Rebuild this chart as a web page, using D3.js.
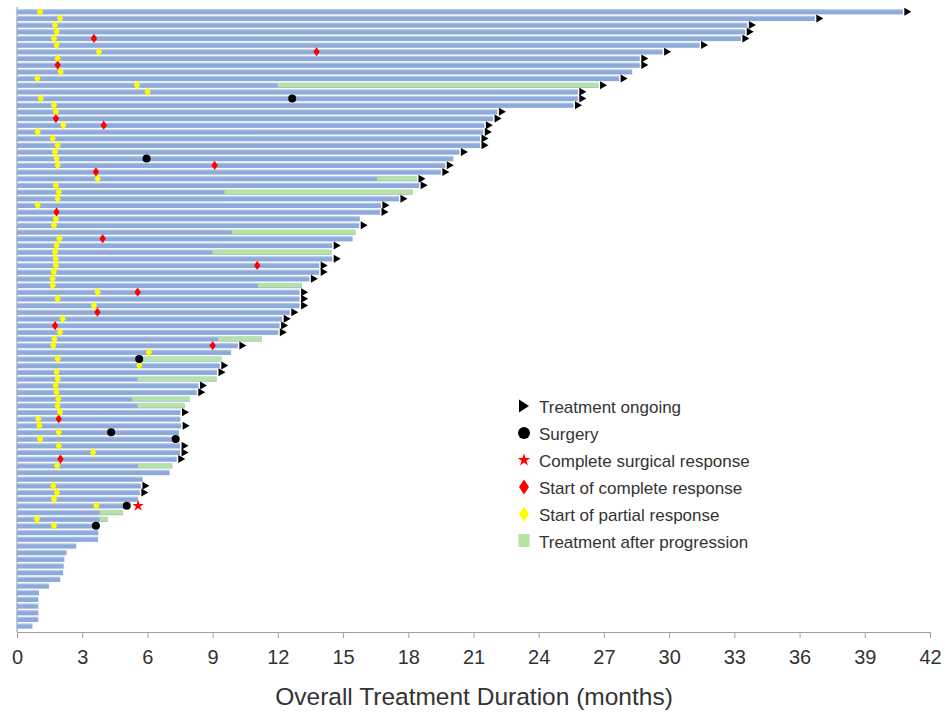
<!DOCTYPE html>
<html>
<head>
<meta charset="utf-8">
<script src="https://cdn.jsdelivr.net/npm/d3@7"></script>
<style>
  html, body { margin: 0; padding: 0; background: #fff; }
  svg { display: block; font-family: "Liberation Sans", Arial, sans-serif; }
</style>
</head>
<body>
<svg id="chart" width="946" height="715"></svg>
<script>
// ---- Data (months), one entry per patient, top to bottom ----
const duration = [40.75,36.7,33.6,33.5,33.3,31.4,29.7,28.65,28.65,28.3,
  27.7,26.75,25.8,25.8,25.6,22.1,21.9,21.5,21.45,21.3,
  21.3,20.35,20.07,19.7,19.5,18.4,18.5,18.2,17.57,16.74,
  16.7,15.77,15.74,15.57,15.44,14.5,14.46,14.5,13.9,13.9,
  13.45,13.1,13.0,13.0,13.0,12.55,12.2,12.08,12.02,11.27,
  10.16,9.85,9.4,9.33,9.2,9.18,8.35,8.27,7.95,7.72,
  7.52,7.52,7.55,7.45,7.35,7.5,7.5,7.35,7.14,7.02,
  5.78,5.7,5.65,5.57,5.05,4.88,4.18,3.7,3.74,3.73,
  2.73,2.28,2.18,2.15,2.12,1.99,1.47,1.01,0.98,0.98,
  0.98,0.98,0.71];

const ongoing = [1,1,1,1,1,1,1,1,1,0,
  1,1,1,1,1,1,1,1,1,1,
  1,1,0,1,1,1,1,0,1,1,
  1,0,1,0,0,1,0,1,1,1,
  1,0,1,1,1,1,1,1,1,0,
  1,0,0,1,1,0,1,1,0,0,
  1,0,1,0,0,1,1,1,0,0,
  0,1,1,0,0,0,0,0,0,0,
  0,0,0,0,0,0,0,0,0,0,
  0,0,0];

const partialResponse = [1.06,1.98,1.75,1.82,1.70,1.82,3.77,1.87,null,2.01,
  0.94,5.52,6.01,1.09,1.70,1.79,null,2.13,0.95,1.64,
  1.87,1.75,1.82,1.87,null,3.71,1.79,1.92,1.87,0.95,
  null,1.79,1.70,null,1.95,1.82,1.75,1.78,1.79,1.69,
  1.64,1.64,3.71,1.87,3.54,null,2.10,null,1.98,1.72,
  1.67,6.07,1.87,5.63,1.82,1.87,1.78,1.82,1.90,1.87,
  1.98,0.98,1.03,1.92,1.06,1.92,3.50,null,1.85,null,
  null,1.67,1.84,1.70,3.65,null,0.92,1.70,null,null,
  null,null,null,null,null,null,null,null,null,null,
  null,null,null];

const completeResponse = [null,null,null,null,3.54,null,13.78,null,1.87,null,
  null,null,null,null,null,null,1.79,3.99,null,null,
  null,null,null,9.09,3.63,null,null,null,null,null,
  1.82,null,null,null,3.94,null,null,null,11.05,null,
  null,null,5.55,null,null,3.70,null,1.75,null,null,
  9.0,null,null,null,null,null,null,null,null,null,
  null,1.92,null,null,null,null,null,2.0,null,null,
  null,null,null,null,null,null,null,null,null,null,
  null,null,null,null,null,null,null,null,null,null,
  null,null,null];

const surgery = [null,null,null,null,null,null,null,null,null,null,
  null,null,null,12.66,null,null,null,null,null,null,
  null,null,5.96,null,null,null,null,null,null,null,
  null,null,null,null,null,null,null,null,null,null,
  null,null,null,null,null,null,null,null,null,null,
  null,null,5.62,null,null,null,null,null,null,null,
  null,null,null,4.33,7.3,null,null,null,null,null,
  null,null,null,null,5.05,null,null,3.63,null,null,
  null,null,null,null,null,null,null,null,null,null,
  null,null,null];

const completeSurgicalResponse = [
  {patient: 74, month: 5.57}
];

const progressionStart = [null,null,null,null,null,null,null,null,null,null,
  null,12.0,null,null,null,null,null,null,null,null,
  null,null,null,null,null,16.57,null,9.55,null,null,
  null,null,null,9.88,null,null,9.0,null,null,null,
  null,11.08,null,null,null,null,null,null,null,9.25,
  null,null,5.7,null,null,5.55,null,null,5.3,5.55,
  null,null,null,null,null,null,null,null,5.57,null,
  null,null,null,null,null,3.8,3.8,null,null,null,
  null,null,null,null,null,null,null,null,null,null,
  null,null,null];

const xTicks = [0,3,6,9,12,15,18,21,24,27,30,33,36,39,42];
const xTitle = "Overall Treatment Duration (months)";
const legendItems = [
  {key: "ongoing", label: "Treatment ongoing"},
  {key: "surgery", label: "Surgery"},
  {key: "star", label: "Complete surgical response"},
  {key: "cr", label: "Start of complete response"},
  {key: "pr", label: "Start of partial response"},
  {key: "prog", label: "Treatment after progression"}
];

// ---- Drawing ----
const svg = d3.select("#chart");
const n = duration.length;
const x = d3.scaleLinear().domain([0, 42]).range([17, 930]);
const y = d3.scalePoint().domain(d3.range(n)).range([11.7, 626]);
const barH = 5.4;

const defs = svg.append("defs");
const grad = defs.append("linearGradient").attr("id", "barGrad")
  .attr("x1", 0).attr("y1", 0).attr("x2", 0).attr("y2", 1);
grad.append("stop").attr("offset", "0%").attr("stop-color", "#c9d7ef");
grad.append("stop").attr("offset", "35%").attr("stop-color", "#8eaadb");
grad.append("stop").attr("offset", "100%").attr("stop-color", "#8eaadb");

const rows = d3.range(n);

// axis lines
svg.append("line").attr("x1", 17).attr("x2", 17).attr("y1", 7).attr("y2", 632)
  .attr("stroke", "#a0a0a0").attr("stroke-width", 1.2);

// bars
svg.append("g").selectAll("rect").data(rows).join("rect")
  .attr("x", x(0)).attr("y", i => y(i) - barH / 2)
  .attr("width", i => x(duration[i]) - x(0))
  .attr("height", barH)
  .attr("fill", "url(#barGrad)");

// progression segments
svg.append("g").selectAll("rect").data(rows.filter(i => progressionStart[i] != null)).join("rect")
  .attr("x", i => x(progressionStart[i])).attr("y", i => y(i) - barH / 2 + 0.6)
  .attr("width", i => x(duration[i]) - x(progressionStart[i]))
  .attr("height", barH - 1.2)
  .attr("fill", "#b5e3a2");

// ongoing arrows
const tri = (cx, cy, w, h) => `M${cx},${cy - h / 2}L${cx + w},${cy}L${cx},${cy + h / 2}Z`;
svg.append("g").selectAll("path").data(rows.filter(i => ongoing[i])).join("path")
  .attr("d", i => tri(x(duration[i]) + 1.5, y(i), 7, 8))
  .attr("fill", "#000");

const diamond = (cx, cy, hw, hh) => `M${cx},${cy - hh}L${cx + hw},${cy}L${cx},${cy + hh}L${cx - hw},${cy}Z`;

// partial response (yellow diamonds)
svg.append("g").selectAll("path").data(rows.filter(i => partialResponse[i] != null)).join("path")
  .attr("d", i => diamond(x(partialResponse[i]), y(i), 3.2, 4.6))
  .attr("fill", "#ffff00");

// complete response (red diamonds)
svg.append("g").selectAll("path").data(rows.filter(i => completeResponse[i] != null)).join("path")
  .attr("d", i => diamond(x(completeResponse[i]), y(i), 3.2, 4.6))
  .attr("fill", "#ff0000");

// surgery (black circles)
svg.append("g").selectAll("circle").data(rows.filter(i => surgery[i] != null)).join("circle")
  .attr("cx", i => x(surgery[i])).attr("cy", i => y(i)).attr("r", 4)
  .attr("fill", "#000");

// complete surgical response (red star)
const starPath = d3.symbol().type(d3.symbolStar).size(40);
svg.append("g").selectAll("path").data(completeSurgicalResponse).join("path")
  .attr("transform", d => `translate(${x(d.month)},${y(d.patient)})`)
  .attr("d", starPath())
  .attr("fill", "#ff0000");

// x axis
const xAxis = d3.axisBottom(x).tickValues(xTicks).tickSize(6).tickPadding(12).tickSizeOuter(0);
const gx = svg.append("g").attr("transform", "translate(0,632)").call(xAxis);
gx.select(".domain").attr("stroke", "#a0a0a0").attr("stroke-width", 1.2);
gx.selectAll(".tick line").attr("stroke", "#a0a0a0");
gx.selectAll(".tick text").attr("fill", "#333").attr("font-size", 20)
  .attr("font-family", "'Liberation Sans', Arial, sans-serif");

svg.append("text").attr("x", 474).attr("y", 705).attr("text-anchor", "middle")
  .attr("font-size", 24.5).attr("fill", "#333").text(xTitle);

// legend
const lg = svg.append("g");
const ly0 = 408, ldy = 27;
legendItems.forEach((d, k) => {
  const cy = ly0 + k * ldy;
  const cx = 524;
  const g = lg.append("g");
  if (d.key === "ongoing") g.append("path").attr("d", tri(cx - 5, cy - 2, 10, 13)).attr("fill", "#000");
  if (d.key === "surgery") g.append("circle").attr("cx", cx).attr("cy", cy - 2).attr("r", 6).attr("fill", "#000");
  if (d.key === "star") g.append("path").attr("transform", `translate(${cx},${cy - 2})`)
      .attr("d", d3.symbol().type(d3.symbolStar).size(50)()).attr("fill", "#ff0000");
  if (d.key === "cr") g.append("path").attr("d", diamond(cx, cy - 2, 5, 7.5)).attr("fill", "#ff0000");
  if (d.key === "pr") g.append("path").attr("d", diamond(cx, cy - 2, 5, 7.5)).attr("fill", "#ffff00");
  if (d.key === "prog") g.append("rect").attr("x", cx - 5.5).attr("y", cy - 9).attr("width", 11).attr("height", 13).attr("fill", "#b5e3a2");
  g.append("text").attr("x", 539).attr("y", cy + 5).attr("font-size", 17).attr("fill", "#333").text(d.label);
});
</script>
</body>
</html>
